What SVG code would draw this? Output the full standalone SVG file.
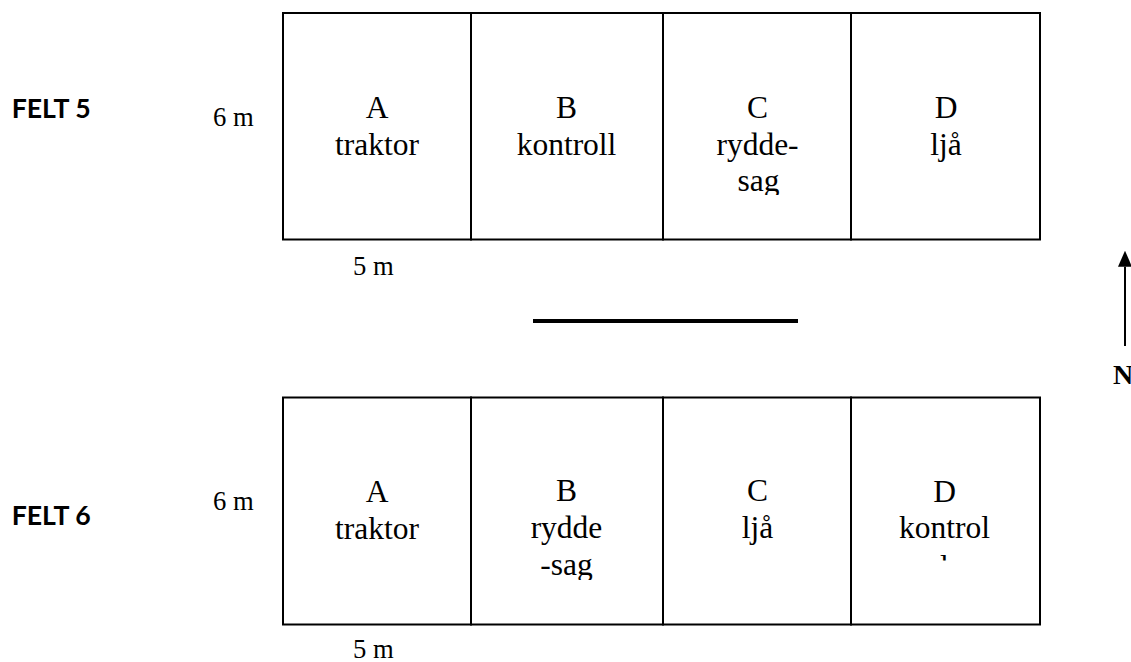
<svg xmlns="http://www.w3.org/2000/svg" width="1131" height="662" viewBox="0 0 1131 662">
<style>
.cell{fill:#fff;stroke:#000;stroke-width:2}
.t{font-family:"Liberation Serif","Times New Roman",serif;font-size:31.5px;fill:#000;text-anchor:middle}
.dim{font-family:"Liberation Serif","Times New Roman",serif;font-size:26.67px;fill:#000}
.felt{font-family:Lato,"Liberation Sans",sans-serif;font-weight:bold;font-size:27px;fill:#000}
</style>
<defs>
<clipPath id="clipSag1"><rect x="663" y="150" width="188" height="45"/></clipPath>
<clipPath id="clipSag2"><rect x="471" y="540" width="192" height="40"/></clipPath>
<clipPath id="clipL"><rect x="900" y="555" width="90" height="5.5"/></clipPath>
<marker id="ah" markerWidth="16" markerHeight="14" refX="0" refY="7" orient="auto" markerUnits="userSpaceOnUse" viewBox="0 0 16 14">
<path d="M0,0 L16,7 L0,14 Z" fill="#000"/>
</marker>
</defs>
<rect width="1131" height="662" fill="#fff"/>

<g id="felt5">
<text class="felt" x="11.7" y="118" textLength="79" lengthAdjust="spacingAndGlyphs">FELT 5</text>
<text class="dim" x="213" y="125.5">6 m</text>
<text class="dim" x="353" y="275">5 m</text>
<g id="f5-A"><rect class="cell" x="283" y="13" width="188" height="226.5"/>
<text class="t" x="377" y="118">A</text><text class="t" x="377" y="154.5">traktor</text></g>
<g id="f5-B"><rect class="cell" x="471" y="13" width="192" height="226.5"/>
<text class="t" x="566.5" y="118">B</text><text class="t" x="566.5" y="154.5">kontroll</text></g>
<g id="f5-C"><rect class="cell" x="663" y="13" width="188" height="226.5"/>
<text class="t" x="757.5" y="118">C</text><text class="t" x="757.5" y="154.5">rydde-</text>
<text class="t" x="758.5" y="191" clip-path="url(#clipSag1)">sag</text></g>
<g id="f5-D"><rect class="cell" x="851" y="13" width="189" height="226.5"/>
<text class="t" x="946" y="118">D</text><text class="t" x="946" y="154.5">ljå</text></g>
</g>

<g id="separator">
<line x1="533" y1="321" x2="798" y2="321" stroke="#000" stroke-width="4"/>
</g>

<g id="felt6">
<text class="felt" x="11.7" y="525" textLength="79" lengthAdjust="spacingAndGlyphs">FELT 6</text>
<text class="dim" x="213" y="510">6 m</text>
<text class="dim" x="353" y="658">5 m</text>
<g id="f6-A"><rect class="cell" x="283" y="397.5" width="188" height="227"/>
<text class="t" x="377" y="502">A</text><text class="t" x="377" y="538.5">traktor</text></g>
<g id="f6-B"><rect class="cell" x="471" y="397.5" width="192" height="227"/>
<text class="t" x="566.5" y="501">B</text><text class="t" x="566.5" y="538">rydde</text>
<text class="t" x="566.5" y="575" clip-path="url(#clipSag2)">-sag</text></g>
<g id="f6-C"><rect class="cell" x="663" y="397.5" width="188" height="227"/>
<text class="t" x="757.5" y="501">C</text><text class="t" x="757.5" y="538">ljå</text></g>
<g id="f6-D"><rect class="cell" x="851" y="397.5" width="189" height="227"/>
<text class="t" x="944.5" y="501.5">D</text><text class="t" x="944.5" y="538">kontrol</text>
<text class="t" x="944.5" y="577" clip-path="url(#clipL)">l</text></g>
</g>

<g id="connectors">
<line x1="1125" y1="346" x2="1125" y2="266.7" stroke="#000" stroke-width="2" marker-end="url(#ah)"/>
</g>
<g id="north">
<text x="1113" y="384" style="font-family:'Liberation Serif','Times New Roman',serif;font-weight:bold;font-size:28px;fill:#000">N</text>
</g>
</svg>
